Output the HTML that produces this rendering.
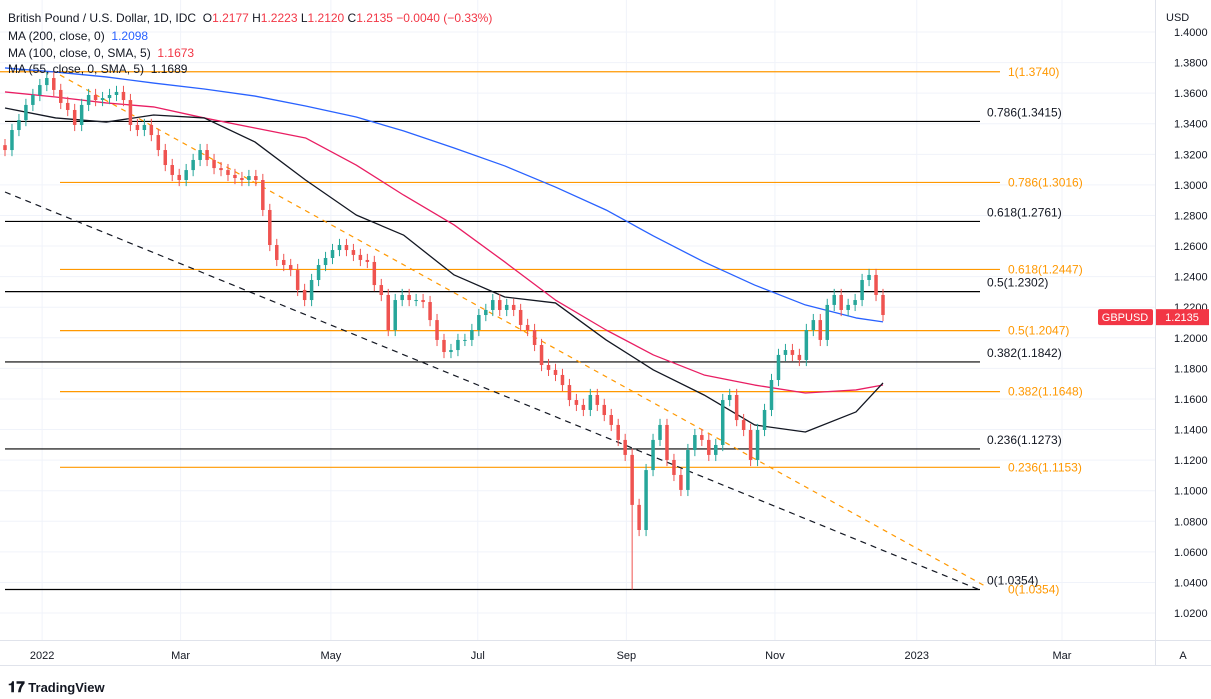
<!DOCTYPE html>
<html><head><meta charset="utf-8">
<style>
body{margin:0;background:#fff;font-family:"Liberation Sans",sans-serif;}
#wrap{position:relative;width:1211px;height:699px;overflow:hidden;background:#fff}
.lg{position:absolute;left:8px;font-size:12px;color:#131722;white-space:nowrap}
</style></head><body>
<div id="wrap">
<svg id="svg" width="1211" height="699" style="position:absolute;left:0;top:0"></svg>
<div class="lg" style="top:11px">British Pound / U.S. Dollar, 1D, IDC &nbsp;<span style="color:#131722">O</span><span style="color:#f23645">1.2177</span> H<span style="color:#f23645">1.2223</span> L<span style="color:#f23645">1.2120</span> C<span style="color:#f23645">1.2135</span> <span style="color:#f23645">−0.0040 (−0.33%)</span></div>
<div class="lg" style="top:29px">MA (200, close, 0) &nbsp;<span style="color:#2962ff">1.2098</span></div>
<div class="lg" style="top:46px">MA (100, close, 0, SMA, 5) &nbsp;<span style="color:#f23645">1.1673</span></div>
<div class="lg" style="top:62px">MA (55, close, 0, SMA, 5) &nbsp;1.1689</div>
<div style="position:absolute;left:8px;top:679px;font-size:13px;color:#131722;font-weight:bold"><span style="font-size:15px">𝟏𝟕</span> TradingView</div>
</div>
<script>
const closes=[1.3228,1.3359,1.3424,1.3523,1.3588,1.3653,1.3699,1.3621,1.3536,1.3490,1.3392,1.3523,1.3588,1.3555,1.3568,1.3588,1.3608,1.3555,1.3392,1.3359,1.3392,1.3326,1.3228,1.3130,1.3065,1.3032,1.3097,1.3163,1.3228,1.3163,1.3110,1.3097,1.3065,1.3045,1.3032,1.3058,1.3032,1.2836,1.2607,1.2509,1.2476,1.2443,1.2313,1.2247,1.2378,1.2476,1.2522,1.2574,1.2607,1.2574,1.2542,1.2509,1.2496,1.2345,1.2280,1.2051,1.2247,1.2280,1.2247,1.2247,1.2234,1.2116,1.1986,1.1907,1.1920,1.1986,1.1986,1.2051,1.2149,1.2182,1.2247,1.2182,1.2215,1.2182,1.2084,1.2051,1.1953,1.1822,1.1790,1.1757,1.1691,1.1593,1.1561,1.1528,1.1626,1.1561,1.1495,1.1430,1.1332,1.1234,1.0907,1.0743,1.1135,1.1332,1.1430,1.1201,1.1103,1.1005,1.1266,1.1364,1.1332,1.1234,1.1299,1.1593,1.1626,1.1462,1.1397,1.1201,1.1397,1.1528,1.1724,1.1888,1.1920,1.1888,1.1855,1.2051,1.2116,1.1986,1.2215,1.2280,1.2182,1.2215,1.2247,1.2378,1.2411,1.2280,1.2149];
const firstOpen=1.3260;
const spikeIndex=90, spikeLow=1.0354;
const maDays=[0,15,30,44,59,74,89,104,118,133,148,163,178,192,207,222,237,252,260];
const ma200=[1.3765,1.3738,1.3706,1.3666,1.3627,1.3581,1.3516,1.3444,1.3353,1.3241,1.3124,1.2986,1.2836,1.2666,1.2496,1.2345,1.2215,1.2130,1.2104];
const ma100=[1.3608,1.3575,1.3536,1.3510,1.3438,1.3372,1.3307,1.3130,1.2934,1.2738,1.2496,1.2247,1.2051,1.1888,1.1757,1.1691,1.1639,1.1659,1.1691];
const ma55=[1.3503,1.3438,1.3411,1.3457,1.3438,1.3281,1.3032,1.2803,1.2672,1.2411,1.2267,1.2228,1.1986,1.1790,1.1626,1.1430,1.1384,1.1515,1.1705];
const fibBlackLevels=[1.3415,1.2761,1.2302,1.1842,1.1273,1.0354];
const fibBlackLabels=["0.786(1.3415)","0.618(1.2761)","0.5(1.2302)","0.382(1.1842)","0.236(1.1273)","0(1.0354)"];
const fibOrangeLevels=[1.3740,1.3016,1.2447,1.2047,1.1648,1.1153,1.0354];
const fibOrangeLabels=["1(1.3740)","0.786(1.3016)","0.618(1.2447)","0.5(1.2047)","0.382(1.1648)","0.236(1.1153)","0(1.0354)"];
const yTicks=[1.40,1.38,1.36,1.34,1.32,1.30,1.28,1.26,1.24,1.22,1.20,1.18,1.16,1.14,1.12,1.10,1.08,1.06,1.04,1.02];
const monthLabels=["2022","Mar","May","Jul","Sep","Nov","2023","Mar"];
const monthDays=[11,52,96.5,140,184,228,270,313];
const lastPrice=1.2135;

const svg=document.getElementById('svg');const NS='http://www.w3.org/2000/svg';
const totalDays=260;
function y(p){return 32+(1.4-p)/0.02*30.58;}
function xd(d){return 5+d*(878/totalDays);}
function mk(t,a,parent){const e=document.createElementNS(NS,t);for(const k in a)e.setAttribute(k,a[k]);(parent||svg).appendChild(e);return e;}
const PR=1155;
yTicks.forEach((v,i)=>{const l=mk('line',{x1:0,x2:PR,y1:y(v),y2:y(v),stroke:'#f0f3fa'});


const t=mk('text',{x:1174,y:y(v)+4,'font-size':11,fill:'#131722'});t.textContent=v.toFixed(4);

});
monthDays.forEach((d,i)=>{const x=xd(d);const l=mk('line',{x1:x,x2:x,y1:0,y2:640,stroke:'#f0f3fa'});


const t=mk('text',{x:x,y:659,'font-size':11,fill:'#131722','text-anchor':'middle'});t.textContent=monthLabels[i];

});
const ax=mk('line',{x1:PR+.5,x2:PR+.5,y1:0,y2:665,stroke:'#e0e3eb'});
const bx=mk('line',{x1:0,x2:1211,y1:640.5,y2:640.5,stroke:'#e0e3eb'});
const bx2=mk('line',{x1:0,x2:1211,y1:665.5,y2:665.5,stroke:'#e0e3eb'});
const usd=mk('text',{x:1166,y:21,'font-size':11,fill:'#131722'});usd.textContent='USD';
const ab=mk('text',{x:1183,y:659,'font-size':11,fill:'#131722','text-anchor':'middle'});ab.textContent='A';
fibBlackLevels.forEach((v,i)=>{const l=mk('line',{x1:5,x2:980,y1:y(v),y2:y(v),stroke:'#000','stroke-width':1.2});


const t=mk('text',{x:987,y:y(v)-5,'font-size':12,fill:'#131722'});t.textContent=fibBlackLabels[i];

});
fibOrangeLevels.forEach((v,i)=>{const x1=i===0?0:60;const t0=i===fibOrangeLevels.length-1;
if(!t0){const l=mk('line',{x1:x1,x2:1000,y1:y(v),y2:y(v),stroke:'#ff9800','stroke-width':1.2});

}
const t=mk('text',{x:1008,y:y(v)+4,'font-size':12,fill:'#ff9800'});t.textContent=fibOrangeLabels[i];

});
const tl1=mk('line',{x1:5,y1:192,x2:980,y2:590,stroke:'#131722','stroke-dasharray':'6,5','stroke-width':1.2});
const tl2=mk('line',{x1:60,y1:75,x2:985,y2:586,stroke:'#ff9800','stroke-dasharray':'5,5','stroke-width':1.2});
function ma(arr,color,name){const pts=arr.map((v,i)=>xd(maDays[i])+','+y(v)).join(' ');const p=mk('polyline',{points:pts,fill:'none',stroke:color,'stroke-width':1.3,'stroke-linejoin':'round'});

}
ma(ma200,'#2962ff','ma200-line');ma(ma100,'#e91e63','ma100-line');ma(ma55,'#131722','ma55-line');
const N=closes.length;const bw=3.5;
closes.forEach((c,i)=>{const o=i===0?firstOpen:closes[i-1];const d=i*totalDays/(N-1);const x=xd(d);
const up=c>=o;const col=up?'#26a69a':'#ef5350';
const hi=Math.max(o,c)+0.004;let lo=Math.min(o,c)-0.004;if(i===spikeIndex)lo=spikeLow;
const w=mk('line',{x1:x,x2:x,y1:y(hi),y2:y(lo),stroke:col,'stroke-width':1});


const top=y(Math.max(o,c));const h=Math.max(1,y(Math.min(o,c))-top);
const b=mk('rect',{x:x-bw/2,y:top,width:bw,height:h,fill:col});

});
const ly=y(lastPrice);
const g1=mk('rect',{x:1098,y:ly-8,width:55,height:16,fill:'#f23645',rx:2});
const g1t=mk('text',{x:1125,y:ly+4,'font-size':11,fill:'#fff','text-anchor':'middle'});g1t.textContent='GBPUSD';
const g2=mk('rect',{x:1156,y:ly-8,width:53,height:16,fill:'#f23645'});
const g2t=mk('text',{x:1182,y:ly+4,'font-size':11,fill:'#fff','text-anchor':'middle'});g2t.textContent=lastPrice.toFixed(4);
</script>
</body></html>
